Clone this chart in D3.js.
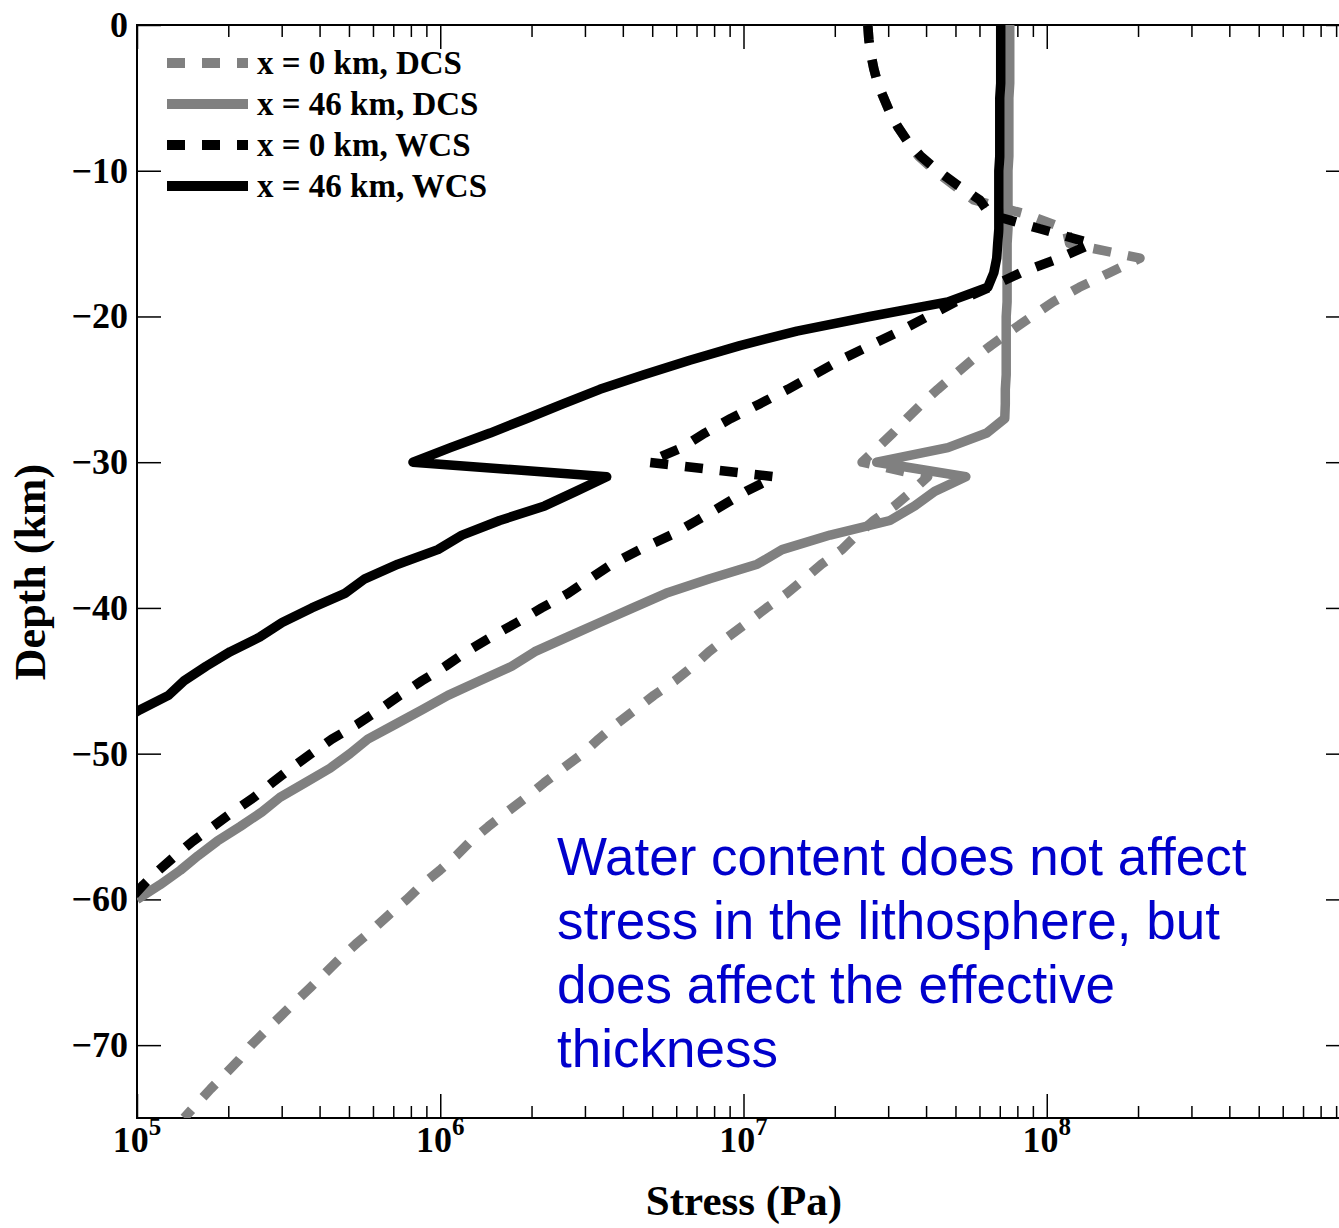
<!DOCTYPE html>
<html>
<head>
<meta charset="utf-8">
<script src="https://cdn.jsdelivr.net/npm/d3@7"></script>
<style>
  html, body { margin: 0; padding: 0; background: #ffffff; }
  svg { display: block; }
</style>
</head>
<body>
<svg id="chart" width="1339" height="1228"></svg>
<script>
// Depth grid (km), one sample per kilometre
const depthKm = [
  0, -1, -2, -3, -4, -5, -6, -7, -8, -9,
  -10, -11, -12, -13, -14, -15, -16, -17, -18, -19,
  -20, -21, -22, -23, -24, -25, -26, -27, -28, -29,
  -30, -31, -32, -33, -34, -35, -36, -37, -38, -39,
  -40, -41, -42, -43, -44, -45, -46, -47, -48, -49,
  -50, -51, -52, -53, -54, -55, -56, -57, -58, -59,
  -60, -61, -62, -63, -64, -65, -66, -67, -68, -69,
  -70, -71, -72, -73, -74, -75
];

// Stress (Pa) at x = 0 km, dry crust (DCS)
const stressX0Dry = [
  2.57e7, 2.59e7, 2.63e7, 2.69e7, 2.77e7, 2.90e7, 3.04e7, 3.23e7, 3.48e7, 3.78e7,
  4.27e7, 4.94e7, 5.74e7, 8.59e7, 1.16e8, 1.19e8, 2.03e8, 1.61e8, 1.28e8, 1.05e8,
  8.92e7, 7.61e7, 6.54e7, 5.66e7, 4.97e7, 4.37e7, 3.87e7, 3.46e7, 3.11e7, 2.77e7,
  2.46e7, 4.05e7, 3.59e7, 3.15e7, 2.69e7, 2.36e7, 2.11e7, 1.81e7, 1.59e7, 1.39e7,
  1.19e7, 1.03e7, 8.88e6, 7.69e6, 6.81e6, 5.94e6, 5.06e6, 4.38e6, 3.79e6, 3.33e6,
  2.95e6, 2.54e6, 2.20e6, 1.92e6, 1.66e6, 1.44e6, 1.26e6, 1.13e6, 9.97e5, 8.70e5,
  7.76e5, 6.82e5, 6.04e5, 5.31e5, 4.70e5, 4.20e5, 3.75e5, 3.34e5, 2.98e5, 2.66e5,
  2.38e5, 2.17e5, 1.95e5, 1.75e5, 1.58e5, 1.43e5
];

// Stress (Pa) at x = 46 km, dry crust (DCS)
const stressX46Dry = [
  7.55e7, 7.55e7, 7.55e7, 7.55e7, 7.55e7, 7.50e7, 7.50e7, 7.50e7, 7.50e7, 7.50e7,
  7.45e7, 7.45e7, 7.45e7, 7.45e7, 7.45e7, 7.40e7, 7.40e7, 7.40e7, 7.40e7, 7.40e7,
  7.35e7, 7.35e7, 7.35e7, 7.35e7, 7.35e7, 7.30e7, 7.30e7, 7.27e7, 6.34e7, 4.72e7,
  2.75e7, 5.41e7, 4.27e7, 3.67e7, 3.04e7, 1.93e7, 1.34e7, 1.11e7, 7.74e6, 5.55e6,
  4.32e6, 3.36e6, 2.62e6, 2.05e6, 1.72e6, 1.35e6, 1.06e6, 8.70e5, 7.09e5, 5.77e5,
  5.04e5, 4.33e5, 3.58e5, 2.96e5, 2.58e5, 2.19e5, 1.84e5, 1.59e5, 1.39e5, 1.19e5,
  1.00e5
];

// Stress (Pa) at x = 0 km, wet crust (WCS)
const stressX0Wet = [
  2.57e7, 2.59e7, 2.63e7, 2.69e7, 2.77e7, 2.90e7, 3.04e7, 3.23e7, 3.48e7, 3.84e7,
  4.37e7, 5.09e7, 6.01e7, 6.49e7, 9.55e7, 1.41e8, 1.10e8, 8.21e7, 6.49e7, 5.01e7,
  4.05e7, 3.28e7, 2.61e7, 2.08e7, 1.71e7, 1.40e7, 1.13e7, 9.08e6, 7.46e6, 6.26e6,
  4.84e6, 1.27e7, 1.02e7, 8.48e6, 7.02e6, 5.76e6, 4.55e6, 3.68e6, 3.11e6, 2.64e6,
  2.16e6, 1.79e6, 1.47e6, 1.22e6, 1.04e6, 8.70e5, 7.36e5, 6.28e5, 5.31e5, 4.39e5,
  3.75e5, 3.22e5, 2.79e5, 2.43e5, 2.07e5, 1.78e5, 1.53e5, 1.34e5, 1.18e5, 1.05e5,
  9.48e4
];

// Stress (Pa) at x = 46 km, wet crust (WCS)
const stressX46Wet = [
  7.05e7, 7.05e7, 7.05e7, 7.05e7, 7.05e7, 7.00e7, 7.00e7, 7.00e7, 7.00e7, 7.00e7,
  6.95e7, 6.95e7, 6.95e7, 6.95e7, 6.95e7, 6.89e7, 6.84e7, 6.69e7, 6.39e7, 4.72e7,
  2.61e7, 1.50e7, 9.73e6, 6.65e6, 4.69e6, 3.36e6, 2.54e6, 1.93e6, 1.46e6, 1.08e6,
  8.13e5, 3.54e6, 2.80e6, 2.21e6, 1.57e6, 1.18e6, 9.82e5, 7.25e5, 5.64e5, 4.85e5,
  3.77e5, 3.01e5, 2.54e5, 2.03e5, 1.69e5, 1.43e5, 1.27e5, 1.02e5, 8.46e4
];

const seriesLabels = ["x = 0 km, DCS", "x = 46 km, DCS", "x = 0 km, WCS", "x = 46 km, WCS"];
const seriesColors = ["#808080", "#808080", "#000000", "#000000"];
const seriesDashed = [true, false, true, false];

// Axis ticks
const depthTicks = [0, -10, -20, -30, -40, -50, -60, -70];
const depthTickLabels = ["0", "\u221210", "\u221220", "\u221230", "\u221240", "\u221250", "\u221260", "\u221270"];
const stressMajorTicks = [1e5, 1e6, 1e7, 1e8, 1e9];
const stressLabelTicks = [1e5, 1e6, 1e7, 1e8];
const stressLabelExponents = ["5", "6", "7", "8"];
const stressMinorMultipliers = [2, 3, 4, 5, 6, 7, 8, 9];

const noteLines = [
  "Water content does not affect",
  "stress in the lithosphere, but",
  "does affect the effective",
  "thickness"
];

// ---- layout ----
const plot = { left: 137, right: 1350, top: 25, bottom: 1118 };
const serif = "'Liberation Serif', 'Times New Roman', Times, serif";
const sans = "'Liberation Sans', Arial, Helvetica, sans-serif";

const svg = d3.select("#chart");
svg.append("rect").attr("width", 1339).attr("height", 1228).attr("fill", "#ffffff");

const x = d3.scaleLog().domain([1e5, 1e9]).range([plot.left, plot.right]);
const y = d3.scaleLinear().domain([-75, 0]).range([plot.bottom, plot.top]);

const minorTicks = [];
stressLabelTicks.forEach(dec => stressMinorMultipliers.forEach(m => minorTicks.push(dec * m)));

// ticks via d3 axes (inward-pointing)
function styleAxis(g) {
  g.select(".domain").remove();
  g.selectAll(".tick line").attr("stroke", "#000").attr("stroke-width", 1.5);
  g.selectAll(".tick text").remove();
}
svg.append("g").attr("transform", `translate(0,${plot.bottom})`)
  .call(d3.axisBottom(x).tickValues(minorTicks).tickSize(-12).tickFormat(() => "")).call(styleAxis);
svg.append("g").attr("transform", `translate(0,${plot.bottom})`)
  .call(d3.axisBottom(x).tickValues(stressMajorTicks).tickSize(-24).tickFormat(() => "")).call(styleAxis);
svg.append("g").attr("transform", `translate(0,${plot.top})`)
  .call(d3.axisTop(x).tickValues(minorTicks).tickSize(-12).tickFormat(() => "")).call(styleAxis);
svg.append("g").attr("transform", `translate(0,${plot.top})`)
  .call(d3.axisTop(x).tickValues(stressMajorTicks).tickSize(-24).tickFormat(() => "")).call(styleAxis);
svg.append("g").attr("transform", `translate(${plot.left},0)`)
  .call(d3.axisLeft(y).tickValues(depthTicks).tickSize(-24).tickFormat(() => "")).call(styleAxis);
svg.append("g").attr("transform", `translate(${plot.right},0)`)
  .call(d3.axisRight(y).tickValues(depthTicks).tickSize(-24).tickFormat(() => "")).call(styleAxis);

// frame
svg.append("rect")
  .attr("x", plot.left).attr("y", plot.top)
  .attr("width", plot.right - plot.left).attr("height", plot.bottom - plot.top)
  .attr("fill", "none").attr("stroke", "#000").attr("stroke-width", 2);

// depth tick labels
svg.append("g").selectAll("text").data(depthTicks).join("text")
  .attr("x", plot.left - 9)
  .attr("y", d => y(d) + 12)
  .attr("text-anchor", "end")
  .attr("font-family", serif).attr("font-weight", "bold").attr("font-size", 36)
  .text((d, i) => depthTickLabels[i]);

// stress tick labels as powers of ten
const xl = svg.append("g").selectAll("text").data(stressLabelTicks).join("text")
  .attr("x", d => x(d))
  .attr("y", 1152)
  .attr("text-anchor", "middle")
  .attr("font-family", serif).attr("font-weight", "bold").attr("font-size", 36);
xl.append("tspan").text("10");
xl.append("tspan").attr("dy", -17).attr("font-size", 25).text((d, i) => stressLabelExponents[i]);

// axis titles
svg.append("text")
  .attr("x", 744).attr("y", 1215)
  .attr("text-anchor", "middle")
  .attr("font-family", serif).attr("font-weight", "bold").attr("font-size", 43)
  .text("Stress (Pa)");
svg.append("text")
  .attr("transform", "translate(45,572) rotate(-90)")
  .attr("text-anchor", "middle")
  .attr("font-family", serif).attr("font-weight", "bold").attr("font-size", 44)
  .text("Depth (km)");

// stress profiles
svg.append("clipPath").attr("id", "plotClip")
  .append("rect")
  .attr("x", plot.left).attr("y", plot.top)
  .attr("width", plot.right - plot.left).attr("height", plot.bottom - plot.top);

const seriesValues = [stressX0Dry, stressX46Dry, stressX0Wet, stressX46Wet];
const series = seriesValues.map((vals, i) => ({
  label: seriesLabels[i],
  color: seriesColors[i],
  dashed: seriesDashed[i],
  points: vals.map((s, k) => ({ s: s, z: depthKm[k] }))
}));

const line = d3.line().x(d => x(d.s)).y(d => y(d.z));

svg.append("g").attr("clip-path", "url(#plotClip)")
  .selectAll("path").data(series).join("path")
  .attr("d", d => line(d.points))
  .attr("fill", "none")
  .attr("stroke", d => d.color)
  .attr("stroke-width", 9.5)
  .attr("stroke-linejoin", "round")
  .attr("stroke-linecap", "butt")
  .attr("stroke-dasharray", d => d.dashed ? "18,17" : null);

// legend
const legend = svg.append("g");
const rowY = [63, 104, 145, 186];
series.forEach((s, i) => {
  legend.append("line")
    .attr("x1", 167).attr("x2", 248)
    .attr("y1", rowY[i]).attr("y2", rowY[i])
    .attr("stroke", s.color).attr("stroke-width", 10)
    .attr("stroke-dasharray", s.dashed ? "18,17" : null);
  legend.append("text")
    .attr("x", 257).attr("y", rowY[i] + 11)
    .attr("font-family", serif).attr("font-weight", "bold").attr("font-size", 33)
    .text(s.label);
});

// note
svg.append("g").selectAll("text").data(noteLines).join("text")
  .attr("x", 557)
  .attr("y", (d, i) => 875 + i * 64)
  .attr("font-family", sans).attr("font-size", 53)
  .attr("fill", "#0000cc")
  .text(d => d);
</script>
</body>
</html>
